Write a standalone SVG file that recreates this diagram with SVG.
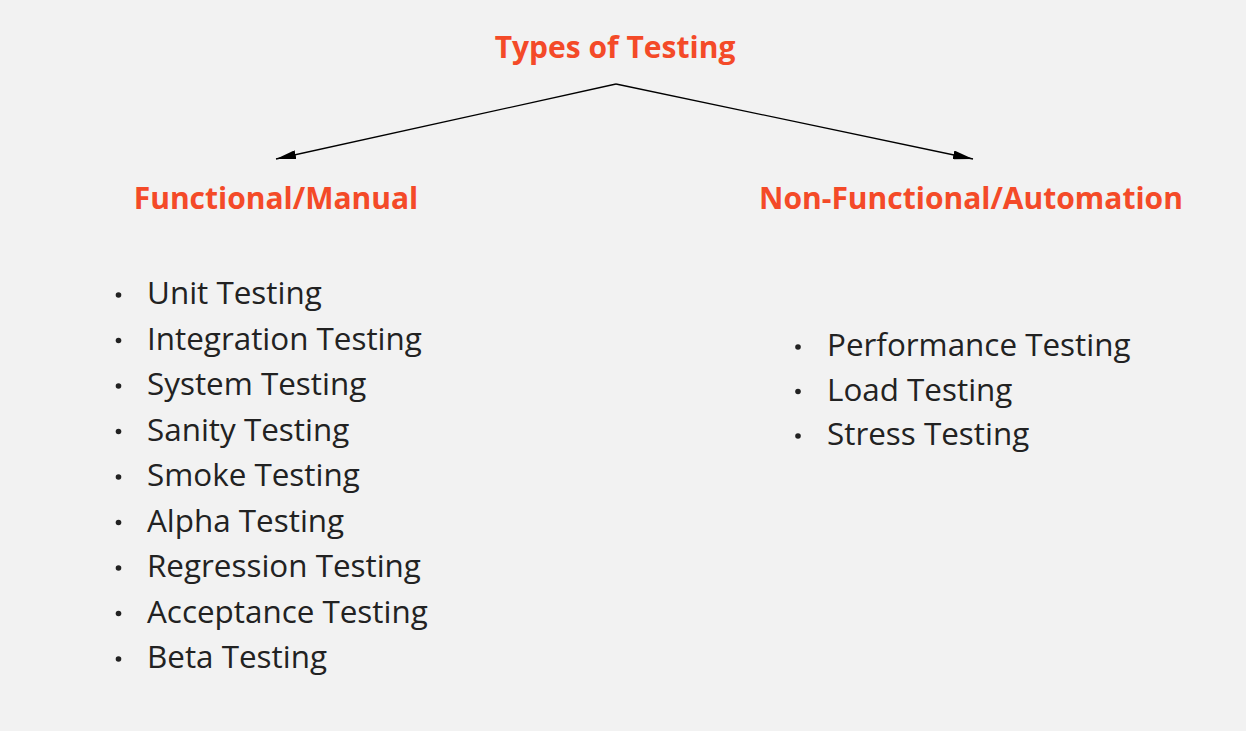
<svg xmlns="http://www.w3.org/2000/svg" width="1246" height="731" viewBox="0 0 1246 731">
<style>
.h{font-family:"Open Sans","Noto Sans",sans-serif;font-weight:bold;font-size:30px;fill:#F44A28;}
.t{font-family:"Open Sans","Noto Sans",sans-serif;font-size:31.4px;fill:#222;}
.b{fill:#222;}
</style>
<defs>
<marker id="ah" viewBox="0 0 20 9" refX="20" refY="4.5" markerWidth="20" markerHeight="9" markerUnits="userSpaceOnUse" orient="auto">
<path d="M0,0 L20,4.5 L0,9 z" fill="#000"/>
</marker>
</defs>
<rect width="1246" height="731" fill="#F2F2F2"/>
<g id="title"><text class="h" x="615" y="57.5" text-anchor="middle">Types of Testing</text></g>
<g id="connectors" stroke="#000" stroke-width="1.3" fill="none">
<line x1="616" y1="84" x2="276" y2="159" marker-end="url(#ah)"/>
<line x1="616" y1="84" x2="973" y2="159" marker-end="url(#ah)"/>
</g>
<g id="functional">
<text class="h" x="276" y="209" text-anchor="middle">Functional/Manual</text>
<g class="t">
<text x="147" y="304">Unit Testing</text>
<text x="147" y="349.5">Integration Testing</text>
<text x="147" y="395">System Testing</text>
<text x="147" y="440.5">Sanity Testing</text>
<text x="147" y="486">Smoke Testing</text>
<text x="147" y="531.5">Alpha Testing</text>
<text x="147" y="577">Regression Testing</text>
<text x="147" y="622.5">Acceptance Testing</text>
<text x="147" y="668">Beta Testing</text>
</g>
<g class="b">
<circle cx="118.5" cy="295" r="2.8"/>
<circle cx="118.5" cy="340.5" r="2.8"/>
<circle cx="118.5" cy="386" r="2.8"/>
<circle cx="118.5" cy="431.5" r="2.8"/>
<circle cx="118.5" cy="477" r="2.8"/>
<circle cx="118.5" cy="522.5" r="2.8"/>
<circle cx="118.5" cy="568" r="2.8"/>
<circle cx="118.5" cy="613.5" r="2.8"/>
<circle cx="118.5" cy="659" r="2.8"/>
</g>
</g>
<g id="nonfunctional">
<text class="h" x="971" y="209" text-anchor="middle">Non-Functional/Automation</text>
<g class="t">
<text x="827" y="356">Performance Testing</text>
<text x="827" y="400.5">Load Testing</text>
<text x="827" y="445">Stress Testing</text>
</g>
<g class="b">
<circle cx="798" cy="347" r="2.8"/>
<circle cx="798" cy="391.5" r="2.8"/>
<circle cx="798" cy="436" r="2.8"/>
</g>
</g>
</svg>
